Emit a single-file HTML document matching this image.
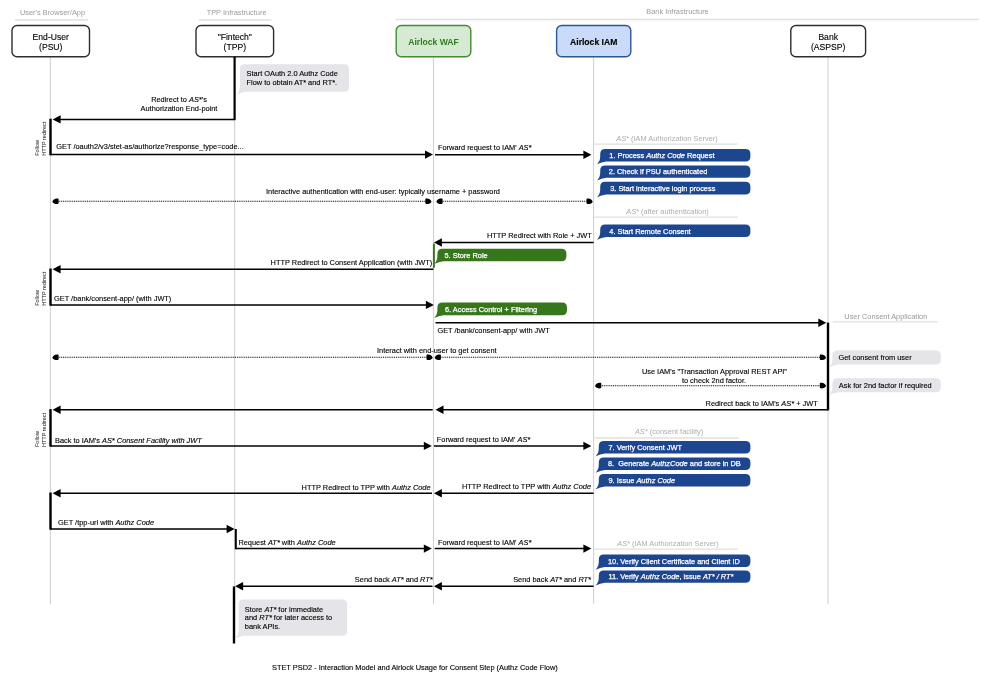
<!DOCTYPE html>
<html><head><meta charset="utf-8"><title>STET PSD2 - Consent Step</title>
<style>
html,body{margin:0;padding:0;background:#fff;}
body{width:1000px;height:684px;overflow:hidden;font-family:"Liberation Sans",sans-serif;}
svg{display:block;}
svg text{font-family:"Liberation Sans",sans-serif;}
</style></head><body>
<svg width="1000" height="684" viewBox="0 0 1000 684">
<defs><filter id="soft" x="0" y="0" width="1000" height="684" filterUnits="userSpaceOnUse"><feGaussianBlur stdDeviation="0.38"/></filter></defs>
<g filter="url(#soft)">
<rect width="1000" height="684" fill="#fff"/>
<text x="52.5" y="14.6" font-size="7.4" text-anchor="middle" fill="#9a9a9a" font-weight="normal" >User's Browser/App</text>
<line x1="15" y1="20" x2="88" y2="20" stroke="#e0e0e0" stroke-width="1.3"/>
<text x="236.6" y="14.6" font-size="7.4" text-anchor="middle" fill="#9a9a9a" font-weight="normal" >TPP Infrastructure</text>
<line x1="199" y1="20" x2="271.5" y2="20" stroke="#e0e0e0" stroke-width="1.3"/>
<text x="677.5" y="13.8" font-size="7.4" text-anchor="middle" fill="#9a9a9a" font-weight="normal" >Bank Infrastructure</text>
<line x1="395.5" y1="19.5" x2="979" y2="19.5" stroke="#e0e0e0" stroke-width="1.3"/>
<line x1="50.4" y1="57" x2="50.4" y2="604" stroke="#d2d2d2" stroke-width="1.1"/>
<line x1="234.6" y1="57" x2="234.6" y2="604" stroke="#d2d2d2" stroke-width="1.1"/>
<line x1="433.5" y1="57" x2="433.5" y2="604" stroke="#d2d2d2" stroke-width="1.1"/>
<line x1="593.6" y1="57" x2="593.6" y2="604" stroke="#d2d2d2" stroke-width="1.1"/>
<line x1="828.0" y1="57" x2="828.0" y2="604" stroke="#d2d2d2" stroke-width="1.1"/>
<rect x="12" y="25.5" width="77.5" height="31.299999999999997" rx="5" ry="5" fill="#fff" stroke="#2e2e2e" stroke-width="1.4"/>
<text x="50.75" y="39.5" font-size="8.6" text-anchor="middle" fill="#000" font-weight="normal" stroke="#000" stroke-width="0.12">End-User</text>
<text x="50.75" y="49.7" font-size="8.6" text-anchor="middle" fill="#000" font-weight="normal" stroke="#000" stroke-width="0.12">(PSU)</text>
<rect x="196" y="25.5" width="77.60000000000002" height="31.299999999999997" rx="5" ry="5" fill="#fff" stroke="#2e2e2e" stroke-width="1.4"/>
<text x="234.8" y="39.5" font-size="8.6" text-anchor="middle" fill="#000" font-weight="normal" stroke="#000" stroke-width="0.12">"Fintech"</text>
<text x="234.8" y="49.7" font-size="8.6" text-anchor="middle" fill="#000" font-weight="normal" stroke="#000" stroke-width="0.12">(TPP)</text>
<rect x="396.2" y="25.5" width="74.60000000000002" height="31.299999999999997" rx="5" ry="5" fill="#d6e9d2" stroke="#458a2f" stroke-width="1.4"/>
<text x="433.5" y="44.6" font-size="8.6" text-anchor="middle" fill="#2f7d1f" font-weight="bold" >Airlock WAF</text>
<rect x="556.6" y="25.5" width="74.19999999999993" height="31.299999999999997" rx="5" ry="5" fill="#c9dbf9" stroke="#2f5597" stroke-width="1.4"/>
<text x="593.7" y="44.6" font-size="8.6" text-anchor="middle" fill="#000" font-weight="bold" stroke="#000" stroke-width="0.12">Airlock IAM</text>
<rect x="790.8" y="25.5" width="74.80000000000007" height="31.299999999999997" rx="5" ry="5" fill="#fff" stroke="#2e2e2e" stroke-width="1.4"/>
<text x="828.2" y="39.5" font-size="8.6" text-anchor="middle" fill="#000" font-weight="normal" stroke="#000" stroke-width="0.12">Bank</text>
<text x="828.2" y="49.7" font-size="8.6" text-anchor="middle" fill="#000" font-weight="normal" stroke="#000" stroke-width="0.12">(ASPSP)</text>
<line x1="234.6" y1="56.8" x2="234.6" y2="120.1" stroke="#000" stroke-width="2.2"/>
<line x1="234.6" y1="119.4" x2="58.6" y2="119.4" stroke="#000" stroke-width="1.5"/>
<path d="M52.6 119.4 L60.6 115.2 L60.6 123.60000000000001 Z" fill="#000"/>
<text x="179" y="101.6" font-size="7.4" text-anchor="middle" fill="#000" font-weight="normal" stroke="#000" stroke-width="0.12">Redirect to <tspan font-style="italic">AS*</tspan>'s</text>
<text x="179" y="110.6" font-size="7.4" text-anchor="middle" fill="#000" font-weight="normal" stroke="#000" stroke-width="0.12">Authorization End-point</text>
<line x1="50.5" y1="118.7" x2="50.5" y2="155.3" stroke="#000" stroke-width="2.4"/>
<line x1="50.4" y1="154.6" x2="427.0" y2="154.6" stroke="#000" stroke-width="1.5"/>
<path d="M433.0 154.6 L425.0 150.4 L425.0 158.79999999999998 Z" fill="#000"/>
<text x="56.3" y="149.0" font-size="7.4" text-anchor="start" fill="#000" font-weight="normal" stroke="#000" stroke-width="0.12">GET /oauth2/v3/stet-as/authorize?response_type=code...</text>
<line x1="435.0" y1="154.8" x2="585.4" y2="154.8" stroke="#000" stroke-width="1.5"/>
<path d="M591.4 154.8 L583.4 150.60000000000002 L583.4 159.0 Z" fill="#000"/>
<text x="438" y="150.2" font-size="7.4" text-anchor="start" fill="#000" font-weight="normal" stroke="#000" stroke-width="0.12">Forward request to IAM' <tspan font-style="italic">AS*</tspan></text>
<line x1="57.4" y1="201.3" x2="426.5" y2="201.3" stroke="#000" stroke-width="1.1" stroke-dasharray="1 0.85"/>
<path d="M52.4 201.70000000000002 C52.9 199.9 54.6 198.20000000000002 57.4 198.4 C58.4 198.4 58.6 198.9 58.6 199.70000000000002 L58.6 202.70000000000002 C58.6 203.8 58.0 204.10000000000002 57.0 204.10000000000002 C55.0 204.10000000000002 52.8 203.3 52.4 201.70000000000002 Z" fill="#000"/>
<path d="M431.5 201.70000000000002 C431.0 199.9 429.3 198.20000000000002 426.5 198.4 C425.5 198.4 425.3 198.9 425.3 199.70000000000002 L425.3 202.70000000000002 C425.3 203.8 425.90000000000003 204.10000000000002 426.90000000000003 204.10000000000002 C428.9 204.10000000000002 431.1 203.3 431.5 201.70000000000002 Z" fill="#000"/>
<line x1="441.4" y1="201.3" x2="587.7" y2="201.3" stroke="#000" stroke-width="1.1" stroke-dasharray="1 0.85"/>
<path d="M436.4 201.70000000000002 C436.9 199.9 438.59999999999997 198.20000000000002 441.4 198.4 C442.4 198.4 442.59999999999997 198.9 442.59999999999997 199.70000000000002 L442.59999999999997 202.70000000000002 C442.59999999999997 203.8 441.99999999999994 204.10000000000002 440.99999999999994 204.10000000000002 C439.0 204.10000000000002 436.79999999999995 203.3 436.4 201.70000000000002 Z" fill="#000"/>
<path d="M592.7 201.70000000000002 C592.2 199.9 590.5 198.20000000000002 587.7 198.4 C586.7 198.4 586.5 198.9 586.5 199.70000000000002 L586.5 202.70000000000002 C586.5 203.8 587.1 204.10000000000002 588.1 204.10000000000002 C590.1 204.10000000000002 592.3000000000001 203.3 592.7 201.70000000000002 Z" fill="#000"/>
<text x="266" y="194.4" font-size="7.4" text-anchor="start" fill="#000" font-weight="normal" stroke="#000" stroke-width="0.12">Interactive authentication with end-user: typically username + password</text>
<line x1="593.6" y1="242.5" x2="439.9" y2="242.5" stroke="#000" stroke-width="1.5"/>
<path d="M433.9 242.5 L441.9 238.3 L441.9 246.7 Z" fill="#000"/>
<text x="591.8" y="238.0" font-size="7.4" text-anchor="end" fill="#000" font-weight="normal" stroke="#000" stroke-width="0.12">HTTP Redirect with Role + JWT</text>
<line x1="433.9" y1="243.6" x2="433.9" y2="267.8" stroke="#38761d" stroke-width="2.0"/>
<line x1="433.5" y1="269.2" x2="58.6" y2="269.2" stroke="#000" stroke-width="1.5"/>
<path d="M52.6 269.2 L60.6 265.0 L60.6 273.4 Z" fill="#000"/>
<text x="432.3" y="265.2" font-size="7.4" text-anchor="end" fill="#000" font-weight="normal" stroke="#000" stroke-width="0.12">HTTP Redirect to Consent Application (with JWT)</text>
<line x1="50.5" y1="268.5" x2="50.5" y2="305.6" stroke="#000" stroke-width="2.4"/>
<line x1="50.4" y1="304.9" x2="427.9" y2="304.9" stroke="#000" stroke-width="1.5"/>
<path d="M433.9 304.9 L425.9 300.7 L425.9 309.09999999999997 Z" fill="#000"/>
<text x="54" y="300.6" font-size="7.4" text-anchor="start" fill="#000" font-weight="normal" stroke="#000" stroke-width="0.12">GET /bank/consent-app/ (with JWT)</text>
<line x1="435.5" y1="322.8" x2="820.3" y2="322.8" stroke="#000" stroke-width="1.5"/>
<path d="M826.3 322.8 L818.3 318.6 L818.3 327.0 Z" fill="#000"/>
<text x="437.4" y="332.7" font-size="7.4" text-anchor="start" fill="#000" font-weight="normal" stroke="#000" stroke-width="0.12">GET /bank/consent-app/ with JWT</text>
<line x1="828.0" y1="322.6" x2="828.0" y2="410.4" stroke="#000" stroke-width="2.4"/>
<line x1="57.4" y1="357.3" x2="427.7" y2="357.3" stroke="#000" stroke-width="1.1" stroke-dasharray="1 0.85"/>
<path d="M52.4 357.7 C52.9 355.90000000000003 54.6 354.2 57.4 354.40000000000003 C58.4 354.40000000000003 58.6 354.90000000000003 58.6 355.7 L58.6 358.7 C58.6 359.8 58.0 360.1 57.0 360.1 C55.0 360.1 52.8 359.3 52.4 357.7 Z" fill="#000"/>
<path d="M432.7 357.7 C432.2 355.90000000000003 430.5 354.2 427.7 354.40000000000003 C426.7 354.40000000000003 426.5 354.90000000000003 426.5 355.7 L426.5 358.7 C426.5 359.8 427.1 360.1 428.1 360.1 C430.09999999999997 360.1 432.3 359.3 432.7 357.7 Z" fill="#000"/>
<line x1="439.7" y1="357.3" x2="821.0" y2="357.3" stroke="#000" stroke-width="1.1" stroke-dasharray="1 0.85"/>
<path d="M434.7 357.7 C435.2 355.90000000000003 436.9 354.2 439.7 354.40000000000003 C440.7 354.40000000000003 440.9 354.90000000000003 440.9 355.7 L440.9 358.7 C440.9 359.8 440.29999999999995 360.1 439.29999999999995 360.1 C437.3 360.1 435.09999999999997 359.3 434.7 357.7 Z" fill="#000"/>
<path d="M826.0 357.7 C825.5 355.90000000000003 823.8 354.2 821.0 354.40000000000003 C820.0 354.40000000000003 819.8 354.90000000000003 819.8 355.7 L819.8 358.7 C819.8 359.8 820.4 360.1 821.4 360.1 C823.4 360.1 825.6 359.3 826.0 357.7 Z" fill="#000"/>
<text x="496.6" y="352.7" font-size="7.4" text-anchor="end" fill="#000" font-weight="normal" stroke="#000" stroke-width="0.12">Interact with end-user to get consent</text>
<line x1="600.1" y1="385.7" x2="821.0" y2="385.7" stroke="#000" stroke-width="1.1" stroke-dasharray="1 0.85"/>
<path d="M595.1 386.09999999999997 C595.6 384.3 597.3000000000001 382.59999999999997 600.1 382.8 C601.1 382.8 601.3000000000001 383.3 601.3000000000001 384.09999999999997 L601.3000000000001 387.09999999999997 C601.3000000000001 388.2 600.7 388.5 599.7 388.5 C597.7 388.5 595.5 387.7 595.1 386.09999999999997 Z" fill="#000"/>
<path d="M826.0 386.09999999999997 C825.5 384.3 823.8 382.59999999999997 821.0 382.8 C820.0 382.8 819.8 383.3 819.8 384.09999999999997 L819.8 387.09999999999997 C819.8 388.2 820.4 388.5 821.4 388.5 C823.4 388.5 825.6 387.7 826.0 386.09999999999997 Z" fill="#000"/>
<text x="787" y="373.6" font-size="7.4" text-anchor="end" fill="#000" font-weight="normal" stroke="#000" stroke-width="0.12">Use IAM's "Transaction Approval REST API"</text>
<text x="746" y="382.6" font-size="7.4" text-anchor="end" fill="#000" font-weight="normal" stroke="#000" stroke-width="0.12">to check 2nd factor.</text>
<line x1="828.0" y1="409.8" x2="441.5" y2="409.8" stroke="#000" stroke-width="1.5"/>
<path d="M435.5 409.8 L443.5 405.6 L443.5 414.0 Z" fill="#000"/>
<text x="817.7" y="406.4" font-size="7.4" text-anchor="end" fill="#000" font-weight="normal" stroke="#000" stroke-width="0.12">Redirect back to IAM's <tspan font-style="italic">AS*</tspan> + JWT</text>
<line x1="432.7" y1="409.8" x2="58.6" y2="409.8" stroke="#000" stroke-width="1.5"/>
<path d="M52.6 409.8 L60.6 405.6 L60.6 414.0 Z" fill="#000"/>
<line x1="50.5" y1="409.1" x2="50.5" y2="446.6" stroke="#000" stroke-width="2.4"/>
<line x1="50.4" y1="445.9" x2="425.8" y2="445.9" stroke="#000" stroke-width="1.5"/>
<path d="M431.8 445.9 L423.8 441.7 L423.8 450.09999999999997 Z" fill="#000"/>
<text x="55" y="442.6" font-size="7.4" text-anchor="start" fill="#000" font-weight="normal" stroke="#000" stroke-width="0.12">Back to IAM's <tspan font-style="italic">AS* Consent Facility with JWT</tspan></text>
<line x1="433.9" y1="445.9" x2="585.4" y2="445.9" stroke="#000" stroke-width="1.5"/>
<path d="M591.4 445.9 L583.4 441.7 L583.4 450.09999999999997 Z" fill="#000"/>
<text x="436.8" y="441.6" font-size="7.4" text-anchor="start" fill="#000" font-weight="normal" stroke="#000" stroke-width="0.12">Forward request to IAM' <tspan font-style="italic">AS*</tspan></text>
<line x1="593.6" y1="493.2" x2="439.9" y2="493.2" stroke="#000" stroke-width="1.5"/>
<path d="M433.9 493.2 L441.9 489.0 L441.9 497.4 Z" fill="#000"/>
<text x="591" y="489.3" font-size="7.4" text-anchor="end" fill="#000" font-weight="normal" stroke="#000" stroke-width="0.12">HTTP Redirect to TPP with <tspan font-style="italic">Authz Code</tspan></text>
<line x1="432.0" y1="493.2" x2="58.6" y2="493.2" stroke="#000" stroke-width="1.5"/>
<path d="M52.6 493.2 L60.6 489.0 L60.6 497.4 Z" fill="#000"/>
<text x="430.6" y="489.7" font-size="7.4" text-anchor="end" fill="#000" font-weight="normal" stroke="#000" stroke-width="0.12">HTTP Redirect to TPP with <tspan font-style="italic">Authz Code</tspan></text>
<line x1="50.5" y1="492.5" x2="50.5" y2="529.6" stroke="#000" stroke-width="2.4"/>
<line x1="50.4" y1="529" x2="228.6" y2="529" stroke="#000" stroke-width="1.5"/>
<path d="M234.6 529 L226.6 524.8 L226.6 533.2 Z" fill="#000"/>
<text x="58" y="524.6" font-size="7.4" text-anchor="start" fill="#000" font-weight="normal" stroke="#000" stroke-width="0.12">GET /tpp-url with <tspan font-style="italic">Authz Code</tspan></text>
<line x1="235.79999999999998" y1="529" x2="235.79999999999998" y2="549.3" stroke="#000" stroke-width="2.0"/>
<line x1="235.6" y1="548.6" x2="425.8" y2="548.6" stroke="#000" stroke-width="1.5"/>
<path d="M431.8 548.6 L423.8 544.4 L423.8 552.8000000000001 Z" fill="#000"/>
<text x="238.4" y="544.6" font-size="7.4" text-anchor="start" fill="#000" font-weight="normal" stroke="#000" stroke-width="0.12">Request <tspan font-style="italic">AT*</tspan> with <tspan font-style="italic">Authz Code</tspan></text>
<line x1="434.7" y1="548.6" x2="585.4" y2="548.6" stroke="#000" stroke-width="1.5"/>
<path d="M591.4 548.6 L583.4 544.4 L583.4 552.8000000000001 Z" fill="#000"/>
<text x="437.9" y="544.9" font-size="7.4" text-anchor="start" fill="#000" font-weight="normal" stroke="#000" stroke-width="0.12">Forward request to IAM' <tspan font-style="italic">AS*</tspan></text>
<line x1="593.6" y1="586.2" x2="439.9" y2="586.2" stroke="#000" stroke-width="1.5"/>
<path d="M433.9 586.2 L441.9 582.0 L441.9 590.4000000000001 Z" fill="#000"/>
<text x="591" y="582.4" font-size="7.4" text-anchor="end" fill="#000" font-weight="normal" stroke="#000" stroke-width="0.12">Send back <tspan font-style="italic">AT*</tspan> and <tspan font-style="italic">RT*</tspan></text>
<line x1="432.5" y1="586.2" x2="241.1" y2="586.2" stroke="#000" stroke-width="1.5"/>
<path d="M235.1 586.2 L243.1 582.0 L243.1 590.4000000000001 Z" fill="#000"/>
<text x="432.7" y="582.4" font-size="7.4" text-anchor="end" fill="#000" font-weight="normal" stroke="#000" stroke-width="0.12">Send back <tspan font-style="italic">AT*</tspan> and <tspan font-style="italic">RT*</tspan></text>
<line x1="234.0" y1="586.4" x2="234.0" y2="643.5" stroke="#000" stroke-width="2.4"/>
<text transform="translate(39.4 155.8) rotate(-90)" font-size="5.5" text-anchor="start" fill="#111">Follow</text>
<text transform="translate(45.9 155.8) rotate(-90)" font-size="5.5" text-anchor="start" fill="#111">HTTP redirect</text>
<text transform="translate(39.4 305.8) rotate(-90)" font-size="5.5" text-anchor="start" fill="#111">Follow</text>
<text transform="translate(45.9 305.8) rotate(-90)" font-size="5.5" text-anchor="start" fill="#111">HTTP redirect</text>
<text transform="translate(39.4 447.0) rotate(-90)" font-size="5.5" text-anchor="start" fill="#111">Follow</text>
<text transform="translate(45.9 447.0) rotate(-90)" font-size="5.5" text-anchor="start" fill="#111">HTTP redirect</text>
<path d="M605.2 149 L745.4 149 Q750.4 149 750.4 154 L750.4 156.4 Q750.4 161.4 745.4 161.4 L606.2 161.4 Q601.7 161.8 597.0 164.20000000000002 Q600.2 160.9 600.2 156.4 L600.2 154 Q600.2 149 605.2 149 Z" fill="#1f4690"/>
<text x="609.3" y="157.89999999999998" font-size="7.4" text-anchor="start" fill="#fff" font-weight="normal" stroke="#fff" stroke-width="0.25">1. Process <tspan font-style="italic">Authz Code</tspan> Request</text>
<path d="M605.2 165.4 L745.4 165.4 Q750.4 165.4 750.4 170.4 L750.4 172.8 Q750.4 177.8 745.4 177.8 L606.2 177.8 Q601.7 178.20000000000002 597.0 180.60000000000002 Q600.2 177.3 600.2 172.8 L600.2 170.4 Q600.2 165.4 605.2 165.4 Z" fill="#1f4690"/>
<text x="608.8" y="174.3" font-size="7.4" text-anchor="start" fill="#fff" font-weight="normal" stroke="#fff" stroke-width="0.25">2. Check if PSU authenticated</text>
<path d="M605.2 181.8 L745.4 181.8 Q750.4 181.8 750.4 186.8 L750.4 189.4 Q750.4 194.4 745.4 194.4 L606.2 194.4 Q601.7 194.8 597.0 197.20000000000002 Q600.2 193.9 600.2 189.4 L600.2 186.8 Q600.2 181.8 605.2 181.8 Z" fill="#1f4690"/>
<text x="610.2" y="190.8" font-size="7.4" text-anchor="start" fill="#fff" font-weight="normal" stroke="#fff" stroke-width="0.25">3. Start interactive login process</text>
<path d="M605.2 224.6 L745.4 224.6 Q750.4 224.6 750.4 229.6 L750.4 232.0 Q750.4 237.0 745.4 237.0 L606.2 237.0 Q601.7 237.4 597.0 239.8 Q600.2 236.5 600.2 232.0 L600.2 229.6 Q600.2 224.6 605.2 224.6 Z" fill="#1f4690"/>
<text x="609.3" y="233.5" font-size="7.4" text-anchor="start" fill="#fff" font-weight="normal" stroke="#fff" stroke-width="0.25">4. Start Remote Consent</text>
<path d="M442.4 248.8 L561.4 248.8 Q566.4 248.8 566.4 253.8 L566.4 256.2 Q566.4 261.2 561.4 261.2 L443.4 261.2 Q438.9 261.59999999999997 434.2 264.0 Q437.4 260.7 437.4 256.2 L437.4 253.8 Q437.4 248.8 442.4 248.8 Z" fill="#38761d"/>
<text x="444.5" y="257.7" font-size="7.4" text-anchor="start" fill="#fff" font-weight="normal" stroke="#fff" stroke-width="0.25">5. Store Role</text>
<path d="M442.4 302.6 L562 302.6 Q567 302.6 567 307.6 L567 310.2 Q567 315.2 562 315.2 L443.4 315.2 Q438.9 315.59999999999997 434.2 318.0 Q437.4 314.7 437.4 310.2 L437.4 307.6 Q437.4 302.6 442.4 302.6 Z" fill="#38761d"/>
<text x="445" y="311.59999999999997" font-size="7.4" text-anchor="start" fill="#fff" font-weight="normal" stroke="#fff" stroke-width="0.25">6. Access Control + Filtering</text>
<path d="M603.8 441 L745.4 441 Q750.4 441 750.4 446 L750.4 448.4 Q750.4 453.4 745.4 453.4 L604.8 453.4 Q600.3 453.79999999999995 595.5999999999999 456.2 Q598.8 452.9 598.8 448.4 L598.8 446 Q598.8 441 603.8 441 Z" fill="#1f4690"/>
<text x="608.5" y="449.9" font-size="7.4" text-anchor="start" fill="#fff" font-weight="normal" stroke="#fff" stroke-width="0.25">7. Verify Consent JWT</text>
<path d="M603.8 457.4 L745.4 457.4 Q750.4 457.4 750.4 462.4 L750.4 465 Q750.4 470 745.4 470 L604.8 470 Q600.3 470.4 595.5999999999999 472.8 Q598.8 469.5 598.8 465 L598.8 462.4 Q598.8 457.4 603.8 457.4 Z" fill="#1f4690"/>
<text x="608" y="466.4" font-size="7.4" text-anchor="start" fill="#fff" font-weight="normal" stroke="#fff" stroke-width="0.25">8.&#160; Generate <tspan font-style="italic">AuthzCode</tspan> and store in DB</text>
<path d="M603.8 474 L745.4 474 Q750.4 474 750.4 479 L750.4 481.4 Q750.4 486.4 745.4 486.4 L604.8 486.4 Q600.3 486.79999999999995 595.5999999999999 489.2 Q598.8 485.9 598.8 481.4 L598.8 479 Q598.8 474 603.8 474 Z" fill="#1f4690"/>
<text x="608.5" y="482.9" font-size="7.4" text-anchor="start" fill="#fff" font-weight="normal" stroke="#fff" stroke-width="0.25">9. Issue <tspan font-style="italic">Authz Code</tspan></text>
<path d="M603.8 554.6 L745.4 554.6 Q750.4 554.6 750.4 559.6 L750.4 562 Q750.4 567 745.4 567 L604.8 567 Q600.3 567.4 595.5999999999999 569.8 Q598.8 566.5 598.8 562 L598.8 559.6 Q598.8 554.6 603.8 554.6 Z" fill="#1f4690"/>
<text x="608" y="563.5" font-size="7.4" text-anchor="start" fill="#fff" font-weight="normal" stroke="#fff" stroke-width="0.25">10. Verify Client Certificate and Client ID</text>
<path d="M603.8 570.4 L745.4 570.4 Q750.4 570.4 750.4 575.4 L750.4 577.8 Q750.4 582.8 745.4 582.8 L604.8 582.8 Q600.3 583.1999999999999 595.5999999999999 585.5999999999999 Q598.8 582.3 598.8 577.8 L598.8 575.4 Q598.8 570.4 603.8 570.4 Z" fill="#1f4690"/>
<text x="608.5" y="579.3" font-size="7.4" text-anchor="start" fill="#fff" font-weight="normal" stroke="#fff" stroke-width="0.25">11. Verify <tspan font-style="italic">Authz Code</tspan>, issue <tspan font-style="italic">AT* / RT*</tspan></text>
<text x="667" y="141.2" font-size="7.4" text-anchor="middle" fill="#adadad" font-weight="normal" ><tspan font-style="italic">AS*</tspan> (IAM Authorization Server)</text>
<line x1="594.5" y1="144.2" x2="737.5" y2="144.2" stroke="#e0e0e0" stroke-width="1.3"/>
<text x="667.5" y="213.8" font-size="7.4" text-anchor="middle" fill="#adadad" font-weight="normal" ><tspan font-style="italic">AS*</tspan> (after authentication)</text>
<line x1="594.5" y1="217.2" x2="738" y2="217.2" stroke="#e0e0e0" stroke-width="1.3"/>
<text x="669" y="434.2" font-size="7.4" text-anchor="middle" fill="#adadad" font-weight="normal" ><tspan font-style="italic">AS*</tspan> (consent facility)</text>
<line x1="594.5" y1="438" x2="739" y2="438" stroke="#e0e0e0" stroke-width="1.3"/>
<text x="668" y="545.6" font-size="7.4" text-anchor="middle" fill="#adadad" font-weight="normal" ><tspan font-style="italic">AS*</tspan> (IAM Authorization Server)</text>
<line x1="594.5" y1="549.2" x2="738" y2="549.2" stroke="#e0e0e0" stroke-width="1.3"/>
<text x="885.8" y="319.2" font-size="7.4" text-anchor="middle" fill="#999" font-weight="normal" >User Consent Application</text>
<line x1="832.7" y1="321.8" x2="938" y2="321.8" stroke="#e0e0e0" stroke-width="1.3"/>
<path d="M244.5 64.2 L344.5 64.2 Q349 64.2 349 68.7 L349 87.3 Q349 91.8 344.5 91.8 L245.5 91.8 Q241.5 92.2 236.8 94.6 Q240 91.3 240 87.3 L240 68.7 Q240 64.2 244.5 64.2 Z" fill="#e4e4e9"/>
<text x="246.6" y="76.4" font-size="7.4" text-anchor="start" fill="#000" font-weight="normal" stroke="#000" stroke-width="0.12">Start OAuth 2.0 Authz Code</text>
<text x="246.6" y="85.1" font-size="7.4" text-anchor="start" fill="#000" font-weight="normal" stroke="#000" stroke-width="0.12">Flow to obtain AT* and RT*.</text>
<path d="M837.4 350.6 L935.8 350.6 Q940.8 350.6 940.8 355.6 L940.8 359.6 Q940.8 364.6 935.8 364.6 L838.4 364.6 Q833.9 365.0 829.1999999999999 367.40000000000003 Q832.4 364.1 832.4 359.6 L832.4 355.6 Q832.4 350.6 837.4 350.6 Z" fill="#e4e4e9"/>
<text x="838.5" y="360.2" font-size="7.4" text-anchor="start" fill="#000" font-weight="normal" stroke="#000" stroke-width="0.12">Get consent from user</text>
<path d="M837.4 378.2 L935.8 378.2 Q940.8 378.2 940.8 383.2 L940.8 387.2 Q940.8 392.2 935.8 392.2 L838.4 392.2 Q833.9 392.59999999999997 829.1999999999999 395.0 Q832.4 391.7 832.4 387.2 L832.4 383.2 Q832.4 378.2 837.4 378.2 Z" fill="#e4e4e9"/>
<text x="838.8" y="388.0" font-size="7.4" text-anchor="start" fill="#000" font-weight="normal" stroke="#000" stroke-width="0.12">Ask for 2nd factor if required</text>
<path d="M243.1 599.6 L342.5 599.6 Q347 599.6 347 604.1 L347 631.3 Q347 635.8 342.5 635.8 L244.1 635.8 Q240.1 636.1999999999999 235.4 638.5999999999999 Q238.6 635.3 238.6 631.3 L238.6 604.1 Q238.6 599.6 243.1 599.6 Z" fill="#e4e4e9"/>
<text x="244.8" y="611.6" font-size="7.4" text-anchor="start" fill="#000" font-weight="normal" stroke="#000" stroke-width="0.12">Store <tspan font-style="italic">AT*</tspan> for immediate</text>
<text x="244.8" y="620.4" font-size="7.4" text-anchor="start" fill="#000" font-weight="normal" stroke="#000" stroke-width="0.12">and <tspan font-style="italic">RT*</tspan> for later access to</text>
<text x="244.8" y="629.2" font-size="7.4" text-anchor="start" fill="#000" font-weight="normal" stroke="#000" stroke-width="0.12">bank APIs.</text>
<text x="272" y="670.2" font-size="7.4" text-anchor="start" fill="#000" font-weight="normal" stroke="#000" stroke-width="0.12">STET PSD2 - Interaction Model and Airlock Usage for Consent Step (Authz Code Flow)</text>
</g>
</svg>
</body></html>
